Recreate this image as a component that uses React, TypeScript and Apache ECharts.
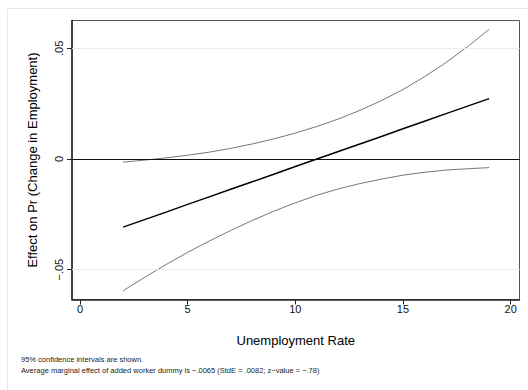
import React, { useEffect, useRef } from "react";
import * as echarts from "echarts";

const xValues = [2, 3, 4, 5, 6, 7, 8, 9, 10, 11, 12, 13, 14, 15, 16, 17, 18, 19];
const effect = [-0.0308, -0.0274, -0.024, -0.0205, -0.0171, -0.0137, -0.0103, -0.0069, -0.0034, 0.0, 0.0034, 0.0068, 0.0102, 0.0137, 0.0171, 0.0205, 0.0239, 0.0273];
const upperCI = [-0.0014, -0.0005, 0.0005, 0.0017, 0.0031, 0.0048, 0.0068, 0.0091, 0.0117, 0.0147, 0.0181, 0.022, 0.0264, 0.0314, 0.0372, 0.0436, 0.0508, 0.0586];
const lowerCI = [-0.0596, -0.0535, -0.0477, -0.0422, -0.0371, -0.0323, -0.0278, -0.0236, -0.0198, -0.0164, -0.0135, -0.0111, -0.0091, -0.0073, -0.006, -0.005, -0.0044, -0.0039];
const xTicks = [0, 5, 10, 15, 20];
const yTicks = [-0.05, 0, 0.05];
const yTickLabels: Record<string, string> = { "-0.05": "\u2212.05", "0": "0", "0.05": ".05" };
const notes = [
  "95% confidence intervals are shown.",
  "Average marginal effect of added worker dummy is \u2212.0065 (StdE = .0082; z\u2212value = \u2212.78)",
];

const FONT = "'Liberation Sans', Arial, Helvetica, sans-serif";

export default function App() {
  const ref = useRef<HTMLDivElement>(null);
  useEffect(() => {
    if (!ref.current) return;
    const chart = echarts.init(ref.current, null, { renderer: "svg" });
    const pair = (ys: number[]) => xValues.map((x, i) => [x, ys[i]]);
    chart.setOption({
      animation: false,
      backgroundColor: "#ffffff",
      textStyle: { fontFamily: FONT },
      grid: {
        left: 72,
        right: 8.5,
        top: 20.5,
        bottom: 90.5,
        show: true,
        borderColor: "#555555",
        borderWidth: 1,
      },
      xAxis: {
        type: "value",
        min: -0.37,
        max: 20.41,
        name: "Unemployment Rate",
        nameLocation: "middle",
        nameGap: 34,
        nameTextStyle: { fontSize: 13, color: "#000", fontFamily: FONT },
        axisLine: { show: true, onZero: false, lineStyle: { color: "#222", width: 1.5 } },
        axisTick: { show: true, customValues: xTicks, length: 5, lineStyle: { color: "#222" } },
        axisLabel: {
          customValues: xTicks,
          fontSize: 11,
          color: "#111",
          margin: 4,
          fontFamily: FONT,
        },
        splitLine: { show: false },
      },
      yAxis: {
        type: "value",
        min: -0.0635,
        max: 0.0626,
        name: "Effect on Pr (Change in Employment)",
        nameLocation: "middle",
        nameRotate: 90,
        nameGap: 33,
        nameTextStyle: { fontSize: 13, color: "#000", fontFamily: FONT },
        axisLine: { show: true, onZero: false, lineStyle: { color: "#222", width: 1.5 } },
        axisTick: { show: true, customValues: yTicks, length: 5, lineStyle: { color: "#222" } },
        axisLabel: {
          customValues: yTicks,
          rotate: 90,
          fontSize: 11,
          color: "#111",
          margin: 8,
          fontFamily: FONT,
          formatter: (v: number) => yTickLabels[String(Math.round(v * 100) / 100)] ?? String(v),
        },
        splitLine: { show: false },
      },
      graphic: [
        {
          type: "rect",
          left: 5,
          top: 6,
          shape: { width: 700, height: 600 },
          style: { fill: "none", stroke: "#e6e6e6", lineWidth: 1 },
          silent: true,
          z: -10,
        },
        {
          type: "text",
          left: 21,
          top: 355,
          style: { text: notes[0], fontSize: 7.5, fill: "#222", fontFamily: FONT },
        },
        {
          type: "text",
          left: 21,
          top: 366,
          style: { text: notes[1], fontSize: 7.5, fill: "#222", fontFamily: FONT },
        },
      ],
      series: [
        {
          type: "line",
          name: "upper",
          data: pair(upperCI),
          showSymbol: false,
          smooth: false,
          lineStyle: { color: "#777777", width: 1 },
          markLine: {
            silent: true,
            symbol: "none",
            label: { show: false },
            data: [
              { yAxis: 0.05, lineStyle: { color: "#ececec", width: 1.2, type: "solid" } },
              { yAxis: -0.05, lineStyle: { color: "#ececec", width: 1.2, type: "solid" } },
              { yAxis: 0, lineStyle: { color: "#111", width: 1, type: "solid" } },
            ],
          },
          z: 3,
        },
        {
          type: "line",
          name: "lower",
          data: pair(lowerCI),
          showSymbol: false,
          smooth: false,
          lineStyle: { color: "#777777", width: 1 },
          z: 3,
        },
        {
          type: "line",
          name: "effect",
          data: pair(effect),
          showSymbol: false,
          lineStyle: { color: "#000", width: 1.5 },
          z: 4,
        },
      ],
    });
    return () => chart.dispose();
  }, []);
  return (
    <div
      ref={ref}
      style={{ position: "fixed", left: 0, top: 0, width: 528, height: 390 }}
    />
  );
}
